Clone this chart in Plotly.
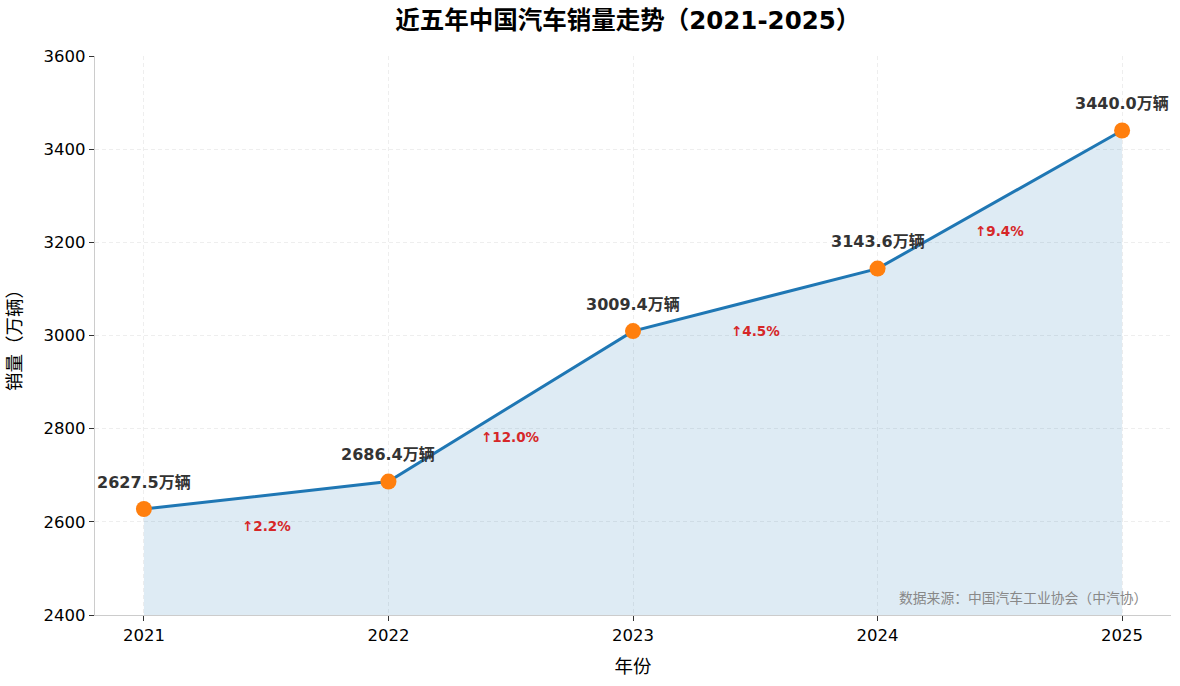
import plotly.graph_objects as go

years = [2021, 2022, 2023, 2024, 2025]
sales = [2627.5, 2686.4, 3009.4, 3143.6, 3440.0]
growth = ["↑2.2%", "↑12.0%", "↑4.5%", "↑9.4%"]
y_ticks = [2400, 2600, 2800, 3000, 3200, 3400, 3600]

FONT = "DejaVu Sans, Noto Sans CJK SC, sans-serif"
CJKFONT = "Noto Sans CJK SC, Noto Sans, sans-serif"

fig = go.Figure()
fig.add_trace(go.Scatter(
    x=years, y=sales, mode="lines", line=dict(color="rgba(0,0,0,0)"),
    fill="tozeroy", fillcolor="rgba(31,119,180,0.15)", hoverinfo="skip", showlegend=False))
fig.add_trace(go.Scatter(
    x=years, y=sales, mode="lines+markers",
    line=dict(color="#1f77b4", width=3),
    marker=dict(color="#ff7f0e", size=16),
    showlegend=False))

for x, y in zip(years, sales):
    fig.add_annotation(x=x, y=y, text=f"<b>{y:.1f}万辆</b>", showarrow=False,
                       yshift=27, font=dict(size=16, color="#333333", family=FONT))

for i, g in enumerate(growth):
    xm = (years[i] + years[i + 1]) / 2
    ym = (sales[i] + sales[i + 1]) / 2
    fig.add_annotation(x=xm, y=ym, text=f"<b>{g}</b>", showarrow=False,
                       yshift=-31, font=dict(size=13.5, color="#d62728", family=FONT))

fig.add_annotation(xref="paper", yref="paper", x=0.98, y=0.01, xanchor="right", yanchor="bottom",
                   text="数据来源：中国汽车工业协会（中汽协）", showarrow=False,
                   font=dict(size=13.8, color="#888888", family=CJKFONT))

axis_common = dict(
    showgrid=True, gridcolor="#eeeeee", griddash="4px,3px", gridwidth=1,
    showline=True, linecolor="#cccccc", linewidth=1.2,
    ticks="outside", ticklen=5, tickcolor="#333333", zeroline=False,
    tickfont=dict(size=16.5, color="black", family=FONT),
)

fig.update_layout(
    width=1180, height=686,
    margin=dict(l=95, r=9, t=56, b=71),
    plot_bgcolor="white", paper_bgcolor="white",
    font=dict(family=FONT, size=16, color="black"),
    title=dict(text="<b>近五年中国汽车销量走势（2021-2025）</b>", x=0.532, xanchor="center",
               y=1 - 20 / 686, yanchor="middle", font=dict(size=24.5, color="black")),
    xaxis=dict(range=[2020.8, 2025.2], tickvals=years, ticktext=[str(y) for y in years],
               title=dict(text="年份", font=dict(size=18.5, family=CJKFONT), standoff=16), **axis_common),
    yaxis=dict(range=[2400, 3600], tickvals=y_ticks,
               title=dict(text="销量（万辆）", font=dict(size=18.5, family=CJKFONT), standoff=18), **axis_common),
)

fig.write_html("out.html", config={"displayModeBar": False},
               post_script="document.body.style.margin='0';")
